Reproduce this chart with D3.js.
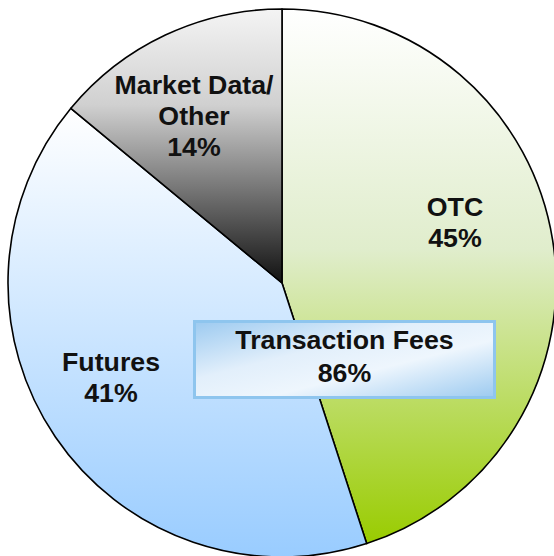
<!DOCTYPE html>
<html>
<head>
<meta charset="utf-8">
<script src="https://cdn.jsdelivr.net/npm/d3@7"></script>
<style>
  html, body { margin: 0; padding: 0; background: #ffffff; }
  svg text { font-family: "Liberation Sans", Arial, sans-serif; font-weight: bold; fill: #111111; }
</style>
</head>
<body>
<svg id="chart" width="554" height="556"></svg>
<script>
// slice data (share of revenue, %)
var categories = ["OTC", "Futures", "Market Data/Other"];
var shares = [45, 41, 14];
var labelLines = [["OTC", "45%"], ["Futures", "41%"], ["Market Data/", "Other", "14%"]];

// callout box
var boxLines = ["Transaction Fees", "86%"];

var width = 554,
    height = 556,
    cx = 282,
    cy = 283,
    radius = 274,
    fontSize = 25,
    stretchX = 1.07,
    lineGap = 31;

var svg = d3.select("#chart");
var defs = svg.append("defs");

// vertical gradients, one per slice
var grads = [
  {id: "g-otc", stops: [[0, "#ffffff"], [0.45, "#e0edcc"], [1, "#99cc00"]]},
  {id: "g-fut", stops: [[0, "#ffffff"], [1, "#99ccff"]]},
  {id: "g-mkt", stops: [[0, "#f4f4f4"], [0.35, "#d0d0d0"], [1, "#111111"]]}
];
grads.forEach(function (g) {
  var lg = defs.append("linearGradient")
    .attr("id", g.id)
    .attr("x1", 0).attr("y1", 0)
    .attr("x2", 0).attr("y2", 1);
  g.stops.forEach(function (s) {
    lg.append("stop").attr("offset", s[0]).attr("stop-color", s[1]);
  });
});

var boxGrad = defs.append("linearGradient")
  .attr("id", "g-box")
  .attr("x1", 0).attr("y1", 0)
  .attr("x2", 1).attr("y2", 1);
[[0, "#9ccaf0"], [0.38, "#e2effb"], [0.62, "#eef6fd"], [1, "#9ccaf0"]].forEach(function (s) {
  boxGrad.append("stop").attr("offset", s[0]).attr("stop-color", s[1]);
});

var data = categories.map(function (c, i) {
  return {name: c, value: shares[i], lines: labelLines[i], grad: grads[i].id};
});

var pie = d3.pie()
  .value(function (d) { return d.value; })
  .sort(null)
  .startAngle(0)
  .endAngle(2 * Math.PI);

var arc = d3.arc()
  .innerRadius(0)
  .outerRadius(radius);

var g = svg.append("g")
  .attr("transform", "translate(" + cx + "," + cy + ")");

g.selectAll("path.slice")
  .data(pie(data))
  .enter()
  .append("path")
  .attr("class", "slice")
  .attr("d", arc)
  .attr("fill", function (d) { return "url(#" + d.data.grad + ")"; })
  .attr("stroke", "#000000")
  .attr("stroke-width", 1.6)
  .attr("stroke-linejoin", "round");

// label block centres, relative to the pie centre
var labelOffset = {
  "OTC": [173, -60],
  "Futures": [-171, 95],
  "Market Data/Other": [-88, -167]
};

function writeLines(sel, lines, x, y, gap) {
  lines.forEach(function (t, i) {
    var ty = y + (i - (lines.length - 1) / 2) * gap;
    sel.append("text")
      .attr("transform", "translate(" + x + "," + ty + ") scale(" + stretchX + ",1)")
      .attr("dy", "0.35em")
      .attr("text-anchor", "middle")
      .style("font-size", fontSize + "px")
      .text(t);
  });
}

pie(data).forEach(function (d) {
  var off = labelOffset[d.data.name];
  writeLines(g, d.data.lines, off[0], off[1], lineGap);
});

// callout box in the middle
var box = {x: 193, y: 320, w: 303, h: 79};
svg.append("rect")
  .attr("x", box.x + 1.5)
  .attr("y", box.y + 1.5)
  .attr("width", box.w - 3)
  .attr("height", box.h - 3)
  .attr("fill", "url(#g-box)")
  .attr("stroke", "#8ec5ee")
  .attr("stroke-width", 3);

writeLines(svg, boxLines, box.x + box.w / 2, box.y + box.h / 2 - 3, 33);
</script>
</body>
</html>
